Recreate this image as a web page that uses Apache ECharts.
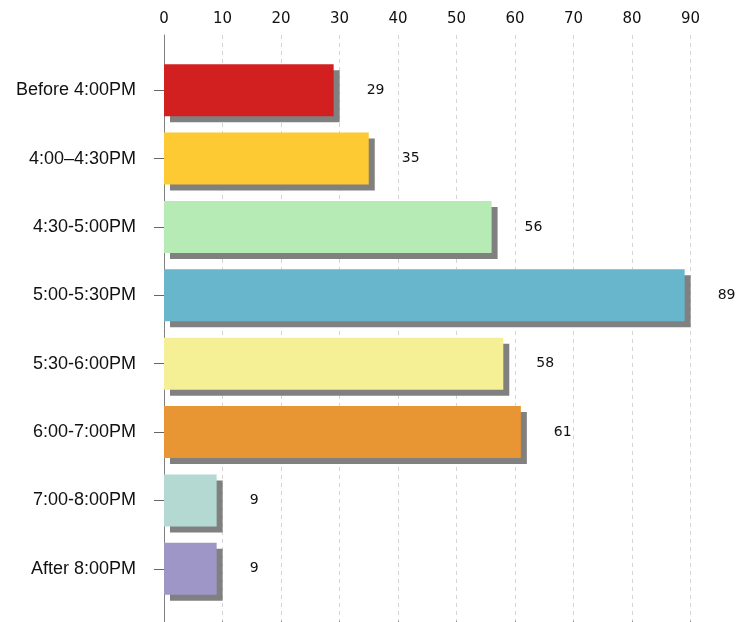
<!DOCTYPE html>
<html>
<head>
<meta charset="utf-8">
<script src="https://cdn.jsdelivr.net/npm/echarts@6/dist/echarts.min.js"></script>
<style>html,body{margin:0;padding:0;background:#fff;}#c{width:737px;height:622px;}</style>
</head>
<body>
<div id="c"></div>
<script>
var categories = ['Before 4:00PM', '4:00–4:30PM', '4:30-5:00PM', '5:00-5:30PM', '5:30-6:00PM', '6:00-7:00PM', '7:00-8:00PM', 'After 8:00PM'];
var values = [29, 35, 56, 89, 58, 61, 9, 9];
var colors = ['#d22020', '#fdca33', '#b6ebb5', '#68b6cc', '#f5ef95', '#e89533', '#b4d9d3', '#9e96c7'];
var xTicks = {min: 0, max: 100, interval: 10};

var chart = echarts.init(document.getElementById('c'), null, {renderer: 'canvas'});
var numFont = 'DejaVu Sans';
chart.setOption({
  animation: false,
  backgroundColor: '#ffffff',
  grid: [
    {left: 164, right: -12, top: 56, bottom: 19, outerBoundsMode: 'none', containLabel: false},
    {left: 164, right: -12, top: 35, bottom: -2, outerBoundsMode: 'none', containLabel: false}
  ],
  xAxis: [
    {gridIndex: 0, type: 'value', min: xTicks.min, max: xTicks.max, interval: xTicks.interval, show: false},
    {gridIndex: 1, type: 'value', position: 'top', min: xTicks.min, max: xTicks.max, interval: xTicks.interval,
     axisLine: {show: true, lineStyle: {color: '#808080', width: 1}},
     axisTick: {show: true, length: 3, lineStyle: {color: '#808080'}},
     axisLabel: {margin: 8, color: '#111111', fontFamily: numFont, fontSize: 15, showMaxLabel: false},
     splitLine: {show: true, lineStyle: {color: '#d4d4d4', type: [4, 4], width: 1}}
    }
  ],
  yAxis: [
    {gridIndex: 0, type: 'category', data: categories, inverse: true,
     axisLine: {show: false},
     axisTick: {show: true, alignWithLabel: true, length: 10, lineStyle: {color: '#666666'}},
     axisLabel: {margin: 28, color: '#111111', fontFamily: 'Liberation Sans', fontSize: 18},
     splitLine: {show: false}
    },
    {gridIndex: 1, type: 'value', min: 0, max: 1,
     axisLine: {show: true, lineStyle: {color: '#808080', width: 1}},
     axisTick: {show: false}, axisLabel: {show: false}, splitLine: {show: false}
    }
  ],
  series: [{
    type: 'bar',
    xAxisIndex: 0, yAxisIndex: 0,
    barWidth: 52,
    data: values.map(function (v, i) {
      return {value: v, itemStyle: {color: colors[i]}};
    }),
    itemStyle: {shadowColor: '#808080', shadowOffsetX: 6, shadowOffsetY: 6, shadowBlur: 0},
    label: {show: true, position: 'right', distance: 33, color: '#111111', fontFamily: numFont, fontSize: 14}
  }]
});
</script>
</body>
</html>
